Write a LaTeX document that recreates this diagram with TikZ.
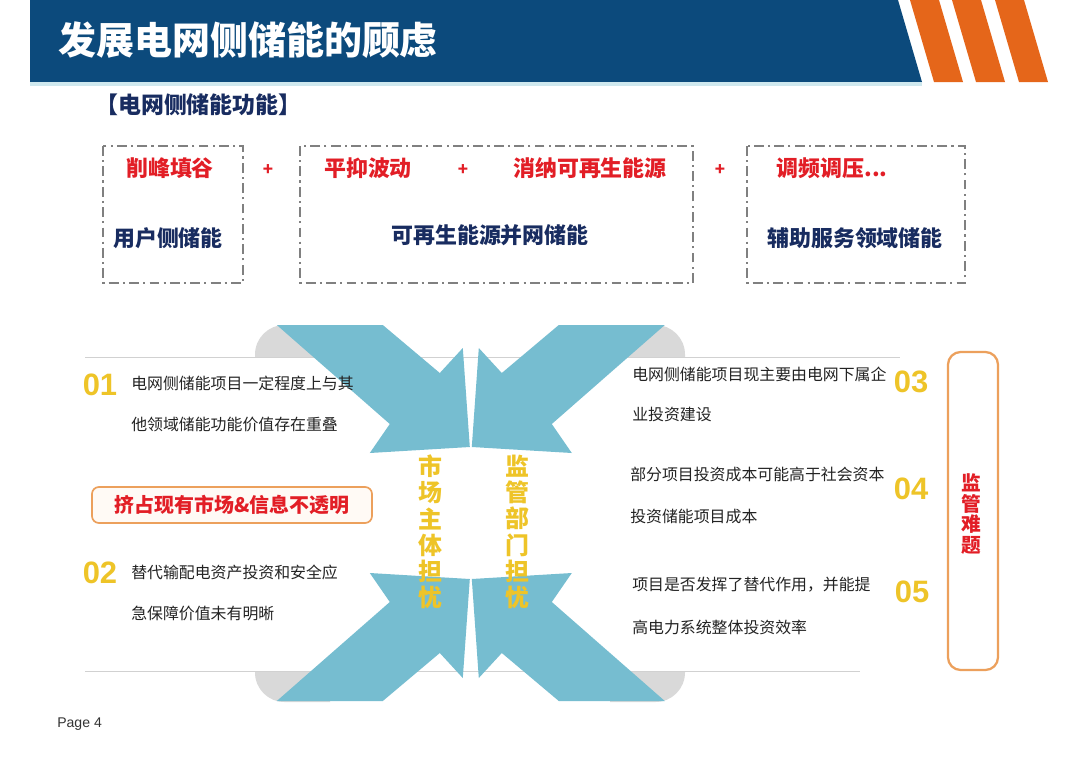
\documentclass[tikz,border=0pt]{standalone}
\usepackage{fontspec}
\setmainfont{Noto Sans CJK SC}
\newfontfamily\cjk{Noto Sans CJK SC}
\newfontfamily\latin{Liberation Sans}
\usetikzlibrary{positioning}

\definecolor{bandblue}{RGB}{12,74,124}
\definecolor{stripeorange}{RGB}{229,102,26}
\definecolor{arrowblue}{RGB}{118,189,208}
\definecolor{cornergray}{RGB}{217,217,217}
\definecolor{numyellow}{RGB}{238,196,40}
\definecolor{keyred}{RGB}{226,30,38}
\definecolor{navytext}{RGB}{24,44,96}
\definecolor{bodytext}{RGB}{35,35,35}
\definecolor{boxorange}{RGB}{236,160,92}

\begin{document}
\begin{tikzpicture}[
  x=0.025cm, y=-0.025cm,
  title/.style={font=\cjk\bfseries\fontsize{27}{30}\selectfont, text=white, anchor=west, inner sep=0pt},
  heading/.style={font=\cjk\bfseries\fontsize{16.3}{19}\selectfont, text=navytext, anchor=west, inner sep=0pt},
  funcbox/.style={draw=black!50, line width=0.9pt, dash pattern=on 7pt off 3pt on 1.5pt off 3pt},
  keyword/.style={font=\cjk\bfseries\fontsize{15.6}{18}\selectfont, text=keyred, inner sep=0pt},
  plus/.style={font=\cjk\bfseries\fontsize{12}{14}\selectfont, text=keyred, inner sep=0pt},
  kind/.style={font=\cjk\bfseries\fontsize{15.6}{18}\selectfont, text=navytext, inner sep=0pt},
  body/.style={font=\cjk\fontsize{11.3}{13}\selectfont, text=bodytext, anchor=west, inner sep=0pt},
  num/.style={font=\latin\bfseries\fontsize{22}{24}\selectfont, text=numyellow, inner sep=0pt},
  vtext/.style={font=\cjk\bfseries\fontsize{17}{18.6}\selectfont, text=numyellow, align=center, inner sep=0pt},
  piece/.style={fill=arrowblue},
  alertbox/.style={draw=boxorange, line width=1.2pt, rounded corners=5pt, fill=orange!4, inner sep=0pt}
]

% Canvas.
\useasboundingbox (0,0) rectangle (1080,764);
\fill[white] (0,0) rectangle (1080,764);

% --------------------------------------------------------------------------
% Header band with slanted stripes.
% --------------------------------------------------------------------------
\fill[bandblue] (30,0) -- (898,0) -- (922,82) -- (30,82) -- cycle;
\fill[arrowblue!35] (30,82) rectangle (922,86);
\foreach \t in {910,952,995}
  \fill[stripeorange] (\t,0) -- (\t+29,0) -- (\t+53,82) -- (\t+24,82) -- cycle;
\node[title] (pagetitle) at (58,40) {发展电网侧储能的顾虑};

% --------------------------------------------------------------------------
% Function row: three dash-dot groups.
% --------------------------------------------------------------------------
\node[heading] (funchead) at (95,105) {【电网侧储能功能】};

\draw[funcbox] (103,146) rectangle (243,283);
\draw[funcbox] (300,146) rectangle (693,283);
\draw[funcbox] (747,146) rectangle (965,283);

\node[keyword] (peak)   at (170,168) {削峰填谷};
\node[keyword] (smooth) at (368,168) {平抑波动};
\node[keyword] (absorb) at (590,168) {消纳可再生能源};
\node[keyword] (freq)   at (832,168) {调频调压...};
\node[plus] (plusa) at (268,170) {+};
\node[plus] (plusb) at (463,170) {+};
\node[plus] (plusc) at (720,170) {+};

\node[kind] (userside) at (168,238) {用户侧储能};
\node[kind] (renew)    at (490,235) {可再生能源并网储能};
\node[kind] (ancil)    at (855,238) {辅助服务领域储能};

% --------------------------------------------------------------------------
% Middle panel: gray corners, white sheet, four inward arrows.
% --------------------------------------------------------------------------
\begin{scope}
  \clip (250,320) rectangle (330,710) (610,320) rectangle (690,710);
  \fill[cornergray, rounded corners=21pt] (255,325) rectangle (685,702);
\end{scope}
\fill[white] (85,357) rectangle (900,671);
\draw[black!18, line width=0.6pt] (85,357) -- (900,357);
\draw[black!18, line width=0.6pt] (85,671) -- (860,671);

\foreach \sx/\sy in {1/1,-1/1,1/-1,-1/-1}
{
  \begin{scope}[shift={(470.8,513)}, xscale=\sx, yscale=\sy]
    \fill[piece] (-194,-188) -- (-88,-188) -- (-31,-140) -- (-8,-165)
      -- (-1,-66) -- (-101,-60) -- (-81,-89) -- cycle;
  \end{scope}
}

\node[vtext] (market) at (430,532) {市\\场\\主\\体\\担\\忧};
\node[vtext] (regul)  at (517,532) {监\\管\\部\\门\\担\\忧};

% Left concerns.
\node[num]  (n1) at (100,385) {01};
\node[body] (c1a) at (131,383) {电网侧储能项目一定程度上与其};
\node[body] (c1b) at (131,425) {他领域储能功能价值存在重叠};

\node[alertbox, font=\cjk\bfseries\fontsize{14.2}{16}\selectfont, text=keyred,
      minimum width=7cm, minimum height=0.9cm] (squeeze) at (232,505) {挤占现有市场\&信息不透明};

\node[num]  (n2) at (100,573) {02};
\node[body] (c2a) at (131,572) {替代输配电资产投资和安全应};
\node[body] (c2b) at (131,613) {急保障价值未有明晰};

% Right concerns.
\node[body] (c3a) at (632,374) {电网侧储能项目现主要由电网下属企};
\node[body] (c3b) at (632,414) {业投资建设};
\node[num]  (n3) at (911,382) {03};

\node[body] (c4a) at (630,474) {部分项目投资成本可能高于社会资本};
\node[body] (c4b) at (630,516) {投资储能项目成本};
\node[num]  (n4) at (911,489) {04};

\node[body] (c5a) at (632,585) {项目是否发挥了替代作用，并能提};
\node[body] (c5b) at (632,627) {高电力系统整体投资效率};
\node[num]  (n5) at (912,592) {05};

\draw[boxorange, line width=1.6pt, rounded corners=9pt] (948,352) rectangle (998,670);
\node[vtext, text=keyred, font=\cjk\bfseries\fontsize{14}{14.6}\selectfont] (hard) at (971,514) {监\\管\\难\\题};

% Footer.
\node[anchor=west, inner sep=0pt, font=\latin\fontsize{10}{12}\selectfont, text=black!80] (pageno) at (57,724) {Page 4};

\end{tikzpicture}
\end{document}
